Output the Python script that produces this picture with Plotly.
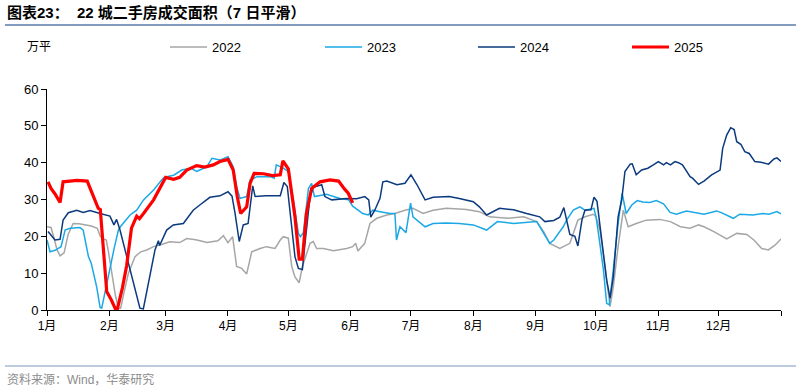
import plotly.graph_objects as go

# ---- data (day of year, value in 万平) ----
d2022 = [0,2,3.5,5,6.5,8.5,10.5,13,16,19,22,25,26.5,28,29.5,30.5,32,34,35.5,36.6,38.8,40.5,43.8,46.6,49.6,53,57,61,66,69.5,74,79.6,85,87.7,90,92.3,94.3,96.8,99.3,101.8,106,109,113.4,116,117.5,120,121.7,123.3,125.4,127,130.8,132.4,134.1,137.5,142.4,149,152,153.5,154.6,158,160.6,164,169,173,178,182,187,192,198.6,208.6,215,220,229,237,243.5,247,250,255,260,262,264,267.5,271.7,273,275,277.5,280,281.6,284,286.6,289,293,298,304.7,310,315,319.8,324,326.7,331.6,338,343,348,351.5,355.4,358.7,362,365]
v2022 = [22.6,22.4,19.5,16.3,14.7,15.5,20.5,23.5,23.4,23.2,22.8,22.2,20,19.3,19,16,11,4,0.5,0.5,6,10,14.5,15.8,16.3,17.2,17.8,18.5,18.3,19.4,19.1,18.3,18.8,20.2,18.3,19.9,11.8,11.3,9.8,15.8,16.7,17.2,16.7,19,19.9,19.5,11.8,9,7.4,11.8,18.1,18.6,16.7,16.7,16.1,16.7,17.2,18.1,16,18.1,23.5,24.9,25.8,26.2,27.1,27.6,26.2,27.1,27.6,27.3,26.7,25.3,24.9,25.3,24,21.3,18.1,16.7,18.1,21,24.4,25.3,26,25.3,21.7,11.8,0.9,6.3,17.2,27.1,22.6,23.5,24.4,24.6,24,22.6,22.2,23.1,22.6,21.3,19.3,20.8,20.5,19,16.7,16.3,17.6,19.3]

d2023 = [0,1.5,4,7,9,11.5,16.4,18,20.6,22,24.7,26.4,27.2,28.5,31,33.5,35.5,36.5,41.3,44.6,48,53,57.8,59.5,63,67,71.5,74.4,76,79.6,82,86,90,92.6,94.3,96,99.3,101,104.5,111,113,114,117.5,120,122.5,125,126,127.5,130,131.6,133,139,145.7,150,152,157,159.7,162,165.6,170.5,173,173.8,175.5,178.5,180.8,182,188,192,198.6,205,212,218.6,224,232,243.5,250,252,256.7,258.4,261.7,265,267.5,272,273,274,276.7,278.3,279.6,281.6,284,286,288,290.8,293.5,296.3,299.7,303,306.6,309.8,313,318,326.7,333,335,341.3,344.5,351,356,359,363,365]
v2023 = [19,15.8,16.2,17.2,21.7,22.2,22.4,21.7,14.5,12.7,6.3,0.7,0.5,4,10,17,21.7,22.6,25.8,27.1,29.9,32.6,35.8,36.2,36.6,38,38.5,37.6,38,38.9,41.2,40.7,41.6,38.9,33.5,30.3,30.8,35.3,36.2,36.2,35.8,39.4,38.5,37.6,29.9,20.8,19.9,21,33,34.4,30.8,31.4,30.3,29.9,28.2,26.2,25.8,27.1,26.7,26.2,26.2,19,22.6,21,29,25.3,22.6,23.5,23.6,23.5,23.1,21.7,24,23.5,24,18.1,19,22.6,24.4,27.1,28,27.1,27.6,25.3,21.7,10.9,1.8,1.4,10.9,23.5,31.7,26.2,28.5,29.7,29.3,29.2,29.7,28.8,26.5,26,26.9,26,26.9,26.5,24.9,26,25.8,26.2,26,26.7,26.1]

d2024 = [0.5,4,6.5,8,10.6,14.8,18,21.4,26.4,31.3,33.3,34.6,36.3,39.6,42.9,46.2,47.9,50.4,53.7,55.4,56,59.5,62.8,67.8,72.7,76,81,86,90,92,93.5,95.6,97.6,100,102.3,103.5,108.8,116,117.8,119.5,121,123.3,125,127,128.3,130.8,132.4,136.6,138.2,141.6,149,154,158,160,161,163,165.6,167,169,174,178,181,184,188,192,200,205,212,215,218.6,225,232,238.5,245,247.6,252,255,257,258.4,260,262.5,264,266,267.5,270.5,272,273.5,275,276.6,278.3,280,281.6,284,285.8,287.4,290,291,293,295.7,298.8,301.5,304,306.6,308,310,312.3,314,316,319.8,321,324,326.7,330.5,334.7,336,338,340,341.7,343,345,347,349.2,352,355,358.8,361.5,363,365]
v2024 = [21.3,19,19.2,24.4,26.4,27.1,26.5,27,26.2,25.5,23.1,24.6,21.7,14.5,7.2,0.5,0.3,7.2,16.3,18.8,17.5,21.7,23.1,23.5,27.1,28.5,30.6,31,32.1,30.9,26.3,18.6,23.1,23.5,33.7,30.8,31,31,34.6,33.5,25.3,14.5,11.3,11,18.1,30.8,33.3,34,30.8,29.9,30.3,30.2,30.8,29.9,25.2,27.1,30.3,34.8,35,34,34.4,36.7,34,29.9,30.6,30.8,30.3,29.4,28,25.8,27.6,27.2,26.2,25.3,24,24.3,25.2,27.8,24.4,20.5,20,17.4,24.4,27.1,27.2,30.6,29.5,22.6,14.5,8.1,3.2,9,25.3,29.9,37.6,39.6,39.7,36.7,38,38.5,39.4,40.3,39.4,40,39.4,40.3,40,39.4,36.2,35.8,34.1,35,36.7,38,43.9,47.5,49.5,49,45.7,45,43,42.5,40.3,40.1,39.6,41,41.3,40.3]

d2025 = [0.5,2,4,6.5,8,11,15,20,23,25.5,26.5,29.7,32,34,35,37.5,39.6,42,44.6,46,48,53,59,63,66,69.5,74.4,78.5,82.7,86,90,92.6,94.6,96.3,99.3,101,103,107.7,112,116,117.3,120,123.3,125.4,127,129,131.6,135.8,140.7,145,148,149.8,152]
v2025 = [34.8,33,31.5,29.2,34.8,35,35.2,35,30.8,27.6,27.3,5,2.7,0.3,0.3,6,12,22.2,25.5,24.8,26.2,29.9,36,35.5,36,38,39.2,38.8,39.4,40.3,40.9,38,30.8,26.2,28,34.4,37.1,37,36.5,36.7,40.5,38.3,25.3,13.8,13.8,26.2,33,34.8,35.3,35,32.8,31.7,29.1]

month_ticks = [0,31,59,90,120,151,181,212,243,273,304,334,365]
month_labels = ["1月","2月","3月","4月","5月","6月","7月","8月","9月","10月","11月","12月",""]
y_ticks = [0,10,20,30,40,50,60]

series = [
    ("2022", d2022, v2022, "#A6A6A6", 1.5),
    ("2023", d2023, v2023, "#1BA9E6", 1.5),
    ("2024", d2024, v2024, "#0B3A7E", 1.5),
    ("2025", d2025, v2025, "#FF0000", 3.2),
]
legend_x = [170, 325, 478, 632]  # legend sample start (pixels)

FONT = "Arial, Liberation Sans, Noto Sans CJK SC, sans-serif"
fig = go.Figure()
for name, d, v, c, w in series:
    fig.add_trace(go.Scatter(x=d, y=v, mode="lines", name=name,
                             line=dict(color=c, width=w), hoverinfo="skip"))

L, R, T, B = 47, 19, 89, 82
PW, PH = 800 - L - R, 392 - T - B
def px(x): return (x - L) / PW
def py(y): return (392 - B - y) / PH

fig.update_layout(
    width=800, height=392,
    margin=dict(l=L, r=R, t=T, b=B, autoexpand=False),
    paper_bgcolor="white", plot_bgcolor="white",
    font=dict(family=FONT, size=12, color="#000000"),
    showlegend=False,
    xaxis=dict(range=[0, 365], tickmode="array", tickvals=month_ticks, ticktext=month_labels,
               showgrid=False, zeroline=False, showline=True, linecolor="#000", linewidth=1,
               ticks="outside", ticklen=5, tickcolor="#000", tickfont=dict(size=12)),
    yaxis=dict(range=[0, 60], tickmode="array", tickvals=y_ticks,
               showgrid=False, zeroline=False, showline=True, linecolor="#000", linewidth=1,
               ticks="outside", ticklen=5, tickcolor="#000", tickfont=dict(size=13)),
)

for (name, d, v, c, w), lx in zip(series, legend_x):
    fig.add_shape(type="line", xref="paper", yref="paper", x0=px(lx), x1=px(lx + 37),
                  y0=py(47), y1=py(47), line=dict(color=c, width=w))
    fig.add_annotation(xref="paper", yref="paper", x=px(lx + 40), y=py(47), xanchor="left",
                       yanchor="middle", text=name, showarrow=False, font=dict(size=13, color="#000"))

fig.add_annotation(xref="paper", yref="paper", x=px(5), y=py(13), xanchor="left", yanchor="middle",
                   text="<b>图表23：  22 城二手房成交面积（7 日平滑）</b>", showarrow=False,
                   font=dict(size=15, color="#000"))
fig.add_annotation(xref="paper", yref="paper", x=px(25), y=py(47), xanchor="left", yanchor="middle",
                   text="万平", showarrow=False, font=dict(size=12, color="#000"))
fig.add_annotation(xref="paper", yref="paper", x=px(5), y=py(379), xanchor="left", yanchor="middle",
                   text="资料来源：Wind，华泰研究", showarrow=False, font=dict(size=12, color="#8C8C8C"))
fig.add_shape(type="line", xref="paper", yref="paper", x0=px(5), x1=px(796), y0=py(25), y1=py(25),
              line=dict(color="#5A7AA8", width=1.5))
fig.add_shape(type="line", xref="paper", yref="paper", x0=px(5), x1=px(796), y0=py(366), y1=py(366),
              line=dict(color="#A8B8D2", width=1.5))

fig.write_html("out.html", config={"displayModeBar": False},
               post_script="document.body.style.margin='0';document.body.style.overflow='hidden';")
